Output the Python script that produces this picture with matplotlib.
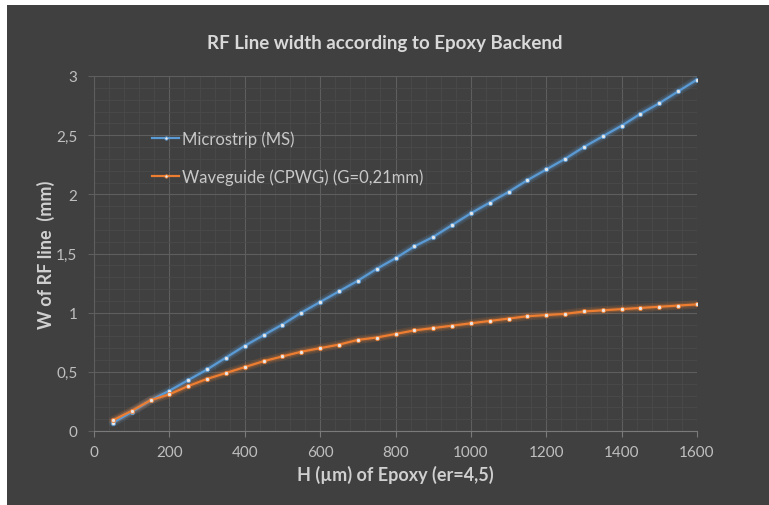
import numpy as np
import matplotlib.pyplot as plt
from matplotlib.ticker import FuncFormatter, MultipleLocator

# donnees
h_um = [50, 100, 150, 200, 250, 300, 350, 400, 450, 500, 550, 600, 650, 700, 750, 800,
        850, 900, 950, 1000, 1050, 1100, 1150, 1200, 1250, 1300, 1350, 1400, 1450, 1500, 1550, 1600]
w_ms = [0.07, 0.16, 0.26, 0.34, 0.43, 0.52, 0.62, 0.72, 0.81, 0.90, 1.00, 1.09, 1.18, 1.27, 1.37, 1.46,
        1.56, 1.64, 1.74, 1.84, 1.93, 2.02, 2.12, 2.21, 2.30, 2.40, 2.49, 2.58, 2.68, 2.77, 2.87, 2.97]
w_cpwg = [0.09, 0.17, 0.26, 0.31, 0.38, 0.44, 0.49, 0.54, 0.59, 0.63, 0.67, 0.70, 0.73, 0.77, 0.79, 0.82,
          0.85, 0.87, 0.89, 0.91, 0.93, 0.95, 0.97, 0.98, 0.99, 1.01, 1.02, 1.03, 1.04, 1.05, 1.06, 1.07]
labels = ['Microstrip (MS)', 'Waveguide (CPWG) (G=0,21mm)']
colors = ['#5B9BD5', '#ED7D31']

plt.rcParams['font.family'] = ['Lato', 'DejaVu Sans']

bg = '#404040'
fig = plt.figure(figsize=(7.69, 5.06), dpi=100, facecolor='white')
# fond sombre du graphe (petite marge blanche en haut et a gauche)
fig.patches.append(plt.Rectangle((7 / 769, 0), 1, 1 - 6 / 506, transform=fig.transFigure,
                                 facecolor=bg, edgecolor='none', zorder=-5))

ax = fig.add_axes([94 / 769, 1 - 432 / 506, (697 - 94) / 769, (432 - 77) / 506])
ax.set_zorder(2)
ax.set_facecolor(bg)

for y, c, lab in zip([w_ms, w_cpwg], colors, labels):
    # halo
    ax.plot(h_um, y, color=c, linewidth=6, alpha=0.15, solid_capstyle='round', zorder=2)
    ax.plot(h_um, y, color=c, linewidth=3.5, alpha=0.22, solid_capstyle='round', zorder=2)
    ax.plot(h_um, y, color=c, linewidth=1.6, marker='o', markersize=3,
            markerfacecolor='#E8E8E8', markeredgecolor=c, markeredgewidth=0.6,
            label=lab, zorder=3)

ax.set_xlim(0, 1600)
ax.set_ylim(0, 3)
ax.xaxis.set_major_locator(MultipleLocator(200))
ax.xaxis.set_minor_locator(MultipleLocator(40))
ax.yaxis.set_major_locator(MultipleLocator(0.5))
ax.yaxis.set_minor_locator(MultipleLocator(0.1))
ax.yaxis.set_major_formatter(FuncFormatter(lambda v, p: ('%g' % v).replace('.', ',')))

ax.grid(which='major', color='#5E5E5E', linewidth=0.8)
ax.grid(which='minor', color='#4A4A4A', linewidth=0.6)
ax.set_axisbelow(True)

for s in ['top', 'right']:
    ax.spines[s].set_visible(False)
ax.spines['left'].set_color('#5E5E5E')
ax.spines['bottom'].set_color('#7A7A7A')
ax.tick_params(axis='both', which='major', colors='#BFBFBF', labelsize=11, length=4, width=0.8)
ax.tick_params(axis='both', which='minor', length=0)
ax.tick_params(axis='x', color='#7A7A7A', pad=6)
ax.tick_params(axis='y', color='#5E5E5E', pad=8)

ax.set_xlabel('H (µm) of Epoxy (er=4,5)', color='#D0D0D0', fontsize=13, fontweight='bold', labelpad=4)
ax.set_ylabel('W of RF line  (mm)', color='#D0D0D0', fontsize=13, fontweight='bold', labelpad=1)
fig.text(0.5, 1 - 43 / 506, 'RF Line width according to Epoxy Backend', ha='center', va='center',
         color='#D9D9D9', fontsize=13.5, fontweight='bold', zorder=3)

leg = ax.legend(loc='upper left', bbox_to_anchor=(0.072, 0.89), frameon=False, fontsize=12,
                handlelength=1.6, handletextpad=0.15, labelspacing=1.3, markerscale=0.8)
for t in leg.get_texts():
    t.set_color('#C8C8C8')

fig.savefig('out.png', dpi=100, facecolor=fig.get_facecolor())
